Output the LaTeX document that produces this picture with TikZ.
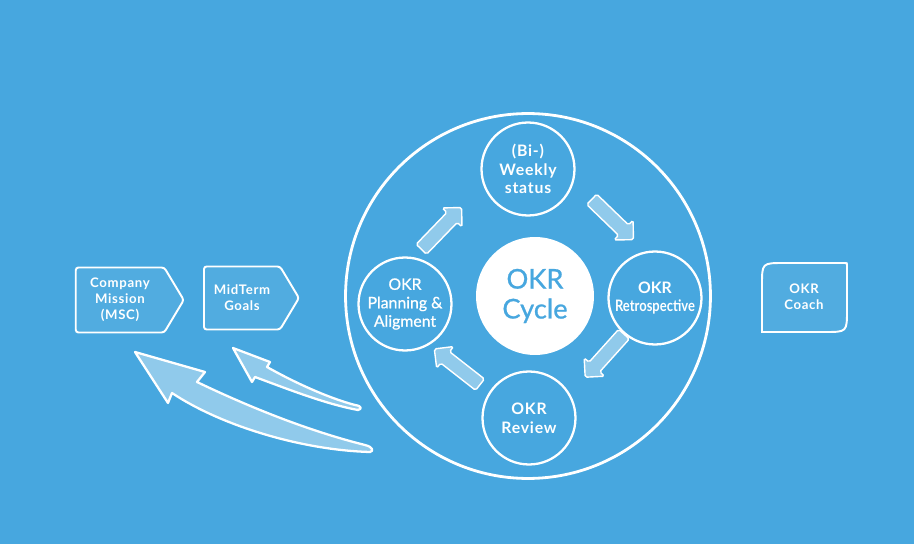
\documentclass[tikz,border=0pt]{standalone}
\usepackage{fontspec}
\setmainfont{Lato}
\newfontfamily\spacedfont[LetterSpace=5]{Lato}
\newfontfamily\mediumfont[FakeBold=0.8]{Lato}
\usetikzlibrary{shapes.arrows,shapes.symbols}
\definecolor{okrblue}{RGB}{71,167,223}

\begin{document}
\begin{tikzpicture}[x=0.02cm, y=-0.02cm,
      ring/.style = {
        circle, draw=white, line width=1.6pt, minimum size=7.3cm },
      hub/.style = {
        circle, fill=white, text=okrblue, minimum size=2.36cm, align=center,
        font=\mediumfont\fontsize{15.5}{17}\selectfont },
      stage/.style = {
        circle, draw=white, line width=1.3pt, text=white, minimum size=1.86cm,
        inner sep=0pt, align=center, font=\bfseries\fontsize{9}{10.5}\selectfont },
      goal/.style = {
        signal, signal to=east, signal pointer angle=118, draw=white,
        line width=1.1pt, fill=white, fill opacity=0.06, text opacity=1,
        text=white, rounded corners=1.5pt, inner sep=0pt, align=center,
        font=\spacedfont\bfseries\fontsize{7.5}{9}\selectfont },
      turn/.style = {
        single arrow, draw=white, line width=0.8pt, fill=white, fill opacity=0.4,
        draw opacity=1, minimum height=1.16cm, inner xsep=0pt, inner ysep=0.13cm,
        single arrow head extend=0.13cm, rounded corners=1pt },
      sweep/.style = {
        draw=white, line width=1.3pt, fill=white, fill opacity=0.4, line join=round }]
    \fill[okrblue] (0,0) rectangle (914,544);
    % the cycle
    \node [ring] (ring) at (528,296) {};
    \node [hub] (cycle) at (535,296) {OKR\\Cycle};
    \node [stage, font=\spacedfont\bfseries\fontsize{9}{10.5}\selectfont] (weekly) at (528,169) {(Bi-)\\Weekly\\status};
    \node [stage, font=\mediumfont\fontsize{9}{10.5}\selectfont] (plan) at (405,304) {OKR\\Planning \&\\Aligment};
    \node [stage] (retro) at (655,298) {OKR\\\scalebox{0.82}[1]{Retrospective}};
    \node [stage, font=\spacedfont\bfseries\fontsize{9}{11}\selectfont] (review) at (529,418) {OKR\\Review};
    \node [turn, rotate=46] (turn1) at (439,231) {};
    \node [turn, rotate=-44] (turn2) at (610,217) {};
    \node [turn, rotate=-132] (turn3) at (607,353) {};
    \node [turn, rotate=142] (turn4) at (460,369) {};
    % goals and coach
    \node [goal, minimum width=2.16cm, minimum height=1.3cm] (mission) at (120,300) {Company\\Mission\\(MSC)};
    \node [goal, minimum width=1.9cm, minimum height=1.26cm] (midterm) at (242,298) {MidTerm\\Goals};
    \node [text=white, align=center, font=\spacedfont\bfseries\fontsize{7.5}{9}\selectfont] (coach) at (804,297) {OKR\\Coach};
    \draw [draw=white, line width=1.1pt, fill=white, fill opacity=0.06, shift={(coach.center)}]
      (-42,35) -- (-42,-12) .. controls (-42,-34) .. (-20,-34) -- (41,-34)
      .. controls (43,-34) .. (43,-32) -- (43,13) .. controls (43,35) .. (21,35) -- cycle;
    % feedback arrows
    \draw [sweep] (370,452) .. controls (300,450) and (220,425) .. (172,393)
      -- (168,403) -- (135,352) -- (205,372) -- (197,382)
      .. controls (245,405) and (305,430) .. (365,445)
      .. controls (373,447) and (374,451) .. (370,452) -- cycle;
    \draw [sweep] (358,410) .. controls (325,404) and (285,388) .. (255,377)
      -- (252,382) -- (233,348) -- (270,362) -- (267,367)
      .. controls (290,380) and (325,397) .. (355,405)
      .. controls (362,406) and (362,409) .. (358,410) -- cycle;
\end{tikzpicture}
\end{document}
